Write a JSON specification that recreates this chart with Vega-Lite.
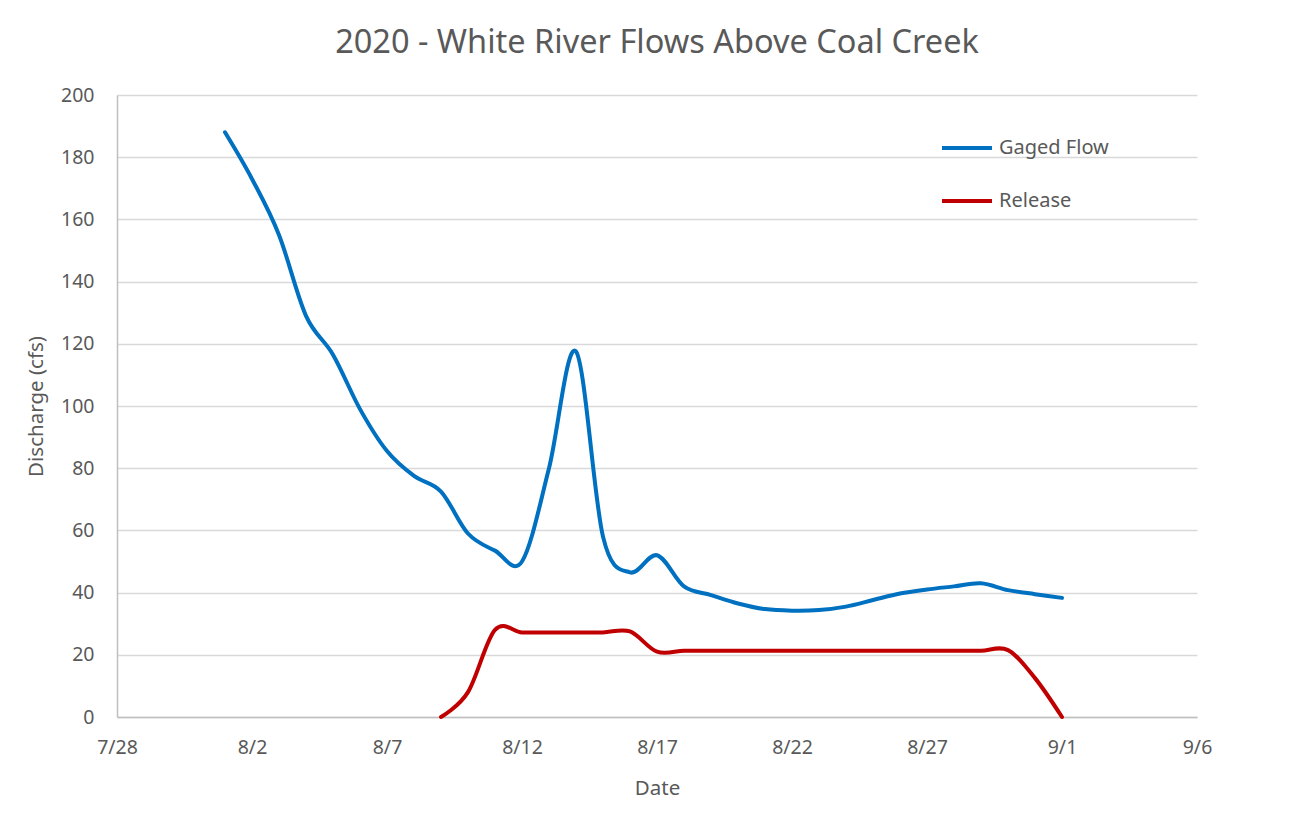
{
  "$schema": "https://vega.github.io/schema/vega-lite/v6.json",
  "autosize": "none",
  "width": 1080,
  "height": 622,
  "padding": {"left": 117, "top": 95, "right": 114, "bottom": 112},
  "background": "white",
  "title": {"text": "2020 - White River Flows Above Coal Creek", "font": "Noto Sans", "fontSize": 32.5, "fontWeight": "normal", "color": "#595959", "frame": "group", "anchor": "middle", "offset": 26},
  "config": {
    "view": {"stroke": null},
    "font": "Noto Sans",
    "axis": {"labelFont": "Noto Sans", "titleFont": "Noto Sans", "labelColor": "#595959", "titleColor": "#595959", "labelFontSize": 19.5, "titleFontSize": 20.5, "titleFontWeight": "normal", "ticks": false, "labelFlush": false, "domainColor": "#BFBFBF", "domainWidth": 1.5, "gridColor": "#D9D9D9", "gridWidth": 1.5}
  },
  "data": {"values": [
    {"date": "2020-08-01T00:00", "series": "Gaged Flow", "flow": 188},
    {"date": "2020-08-02T00:00", "series": "Gaged Flow", "flow": 173},
    {"date": "2020-08-03T00:00", "series": "Gaged Flow", "flow": 155},
    {"date": "2020-08-04T00:00", "series": "Gaged Flow", "flow": 129},
    {"date": "2020-08-05T00:00", "series": "Gaged Flow", "flow": 116.5},
    {"date": "2020-08-06T00:00", "series": "Gaged Flow", "flow": 99},
    {"date": "2020-08-07T00:00", "series": "Gaged Flow", "flow": 85.5},
    {"date": "2020-08-08T00:00", "series": "Gaged Flow", "flow": 77.5},
    {"date": "2020-08-09T00:00", "series": "Gaged Flow", "flow": 72.5},
    {"date": "2020-08-10T00:00", "series": "Gaged Flow", "flow": 59},
    {"date": "2020-08-11T00:00", "series": "Gaged Flow", "flow": 53.5},
    {"date": "2020-08-12T00:00", "series": "Gaged Flow", "flow": 50},
    {"date": "2020-08-13T00:00", "series": "Gaged Flow", "flow": 80},
    {"date": "2020-08-14T00:00", "series": "Gaged Flow", "flow": 117.5},
    {"date": "2020-08-15T00:00", "series": "Gaged Flow", "flow": 58},
    {"date": "2020-08-16T00:00", "series": "Gaged Flow", "flow": 46.5},
    {"date": "2020-08-17T00:00", "series": "Gaged Flow", "flow": 52},
    {"date": "2020-08-18T00:00", "series": "Gaged Flow", "flow": 42},
    {"date": "2020-08-19T00:00", "series": "Gaged Flow", "flow": 39.2},
    {"date": "2020-08-20T00:00", "series": "Gaged Flow", "flow": 36.5},
    {"date": "2020-08-21T00:00", "series": "Gaged Flow", "flow": 34.7},
    {"date": "2020-08-22T00:00", "series": "Gaged Flow", "flow": 34.2},
    {"date": "2020-08-23T00:00", "series": "Gaged Flow", "flow": 34.4},
    {"date": "2020-08-24T00:00", "series": "Gaged Flow", "flow": 35.5},
    {"date": "2020-08-25T00:00", "series": "Gaged Flow", "flow": 37.6},
    {"date": "2020-08-26T00:00", "series": "Gaged Flow", "flow": 39.7},
    {"date": "2020-08-27T00:00", "series": "Gaged Flow", "flow": 41},
    {"date": "2020-08-28T00:00", "series": "Gaged Flow", "flow": 42},
    {"date": "2020-08-29T00:00", "series": "Gaged Flow", "flow": 43},
    {"date": "2020-08-30T00:00", "series": "Gaged Flow", "flow": 40.8},
    {"date": "2020-08-31T00:00", "series": "Gaged Flow", "flow": 39.5},
    {"date": "2020-09-01T00:00", "series": "Gaged Flow", "flow": 38.3},
    {"date": "2020-08-09T00:00", "series": "Release", "flow": 0},
    {"date": "2020-08-10T00:00", "series": "Release", "flow": 8},
    {"date": "2020-08-11T00:00", "series": "Release", "flow": 28},
    {"date": "2020-08-12T00:00", "series": "Release", "flow": 27.2},
    {"date": "2020-08-13T00:00", "series": "Release", "flow": 27.2},
    {"date": "2020-08-14T00:00", "series": "Release", "flow": 27.2},
    {"date": "2020-08-15T00:00", "series": "Release", "flow": 27.2},
    {"date": "2020-08-16T00:00", "series": "Release", "flow": 27.5},
    {"date": "2020-08-17T00:00", "series": "Release", "flow": 21},
    {"date": "2020-08-18T00:00", "series": "Release", "flow": 21.3},
    {"date": "2020-08-19T00:00", "series": "Release", "flow": 21.3},
    {"date": "2020-08-20T00:00", "series": "Release", "flow": 21.3},
    {"date": "2020-08-21T00:00", "series": "Release", "flow": 21.3},
    {"date": "2020-08-22T00:00", "series": "Release", "flow": 21.3},
    {"date": "2020-08-23T00:00", "series": "Release", "flow": 21.3},
    {"date": "2020-08-24T00:00", "series": "Release", "flow": 21.3},
    {"date": "2020-08-25T00:00", "series": "Release", "flow": 21.3},
    {"date": "2020-08-26T00:00", "series": "Release", "flow": 21.3},
    {"date": "2020-08-27T00:00", "series": "Release", "flow": 21.3},
    {"date": "2020-08-28T00:00", "series": "Release", "flow": 21.3},
    {"date": "2020-08-29T00:00", "series": "Release", "flow": 21.3},
    {"date": "2020-08-30T00:00", "series": "Release", "flow": 21.5},
    {"date": "2020-08-31T00:00", "series": "Release", "flow": 12.5},
    {"date": "2020-09-01T00:00", "series": "Release", "flow": 0}
  ]},
  "mark": {"type": "line", "interpolate": "cardinal", "strokeWidth": 4, "strokeCap": "round", "strokeJoin": "round"},
  "encoding": {
    "x": {"field": "date", "type": "temporal", "title": "Date",
      "scale": {"domain": [{"year": 2020, "month": 7, "date": 28}, {"year": 2020, "month": 9, "date": 6}]},
      "axis": {"format": "%-m/%-d", "grid": false, "labelPadding": 21, "titlePadding": 22,
        "values": [{"year": 2020, "month": 7, "date": 28}, {"year": 2020, "month": 8, "date": 2}, {"year": 2020, "month": 8, "date": 7}, {"year": 2020, "month": 8, "date": 12}, {"year": 2020, "month": 8, "date": 17}, {"year": 2020, "month": 8, "date": 22}, {"year": 2020, "month": 8, "date": 27}, {"year": 2020, "month": 9, "date": 1}, {"year": 2020, "month": 9, "date": 6}]}},
    "y": {"field": "flow", "type": "quantitative", "title": "Discharge (cfs)",
      "scale": {"domain": [0, 200], "nice": false},
      "axis": {"values": [0, 20, 40, 60, 80, 100, 120, 140, 160, 180, 200], "labelPadding": 23, "titlePadding": 14}},
    "color": {"field": "series", "type": "nominal",
      "scale": {"domain": ["Gaged Flow", "Release"], "range": ["#0070C0", "#C00000"]},
      "legend": {"title": null, "orient": "none", "legendX": 823, "legendY": 26, "symbolType": "stroke", "symbolSize": 2500, "symbolStrokeWidth": 4, "labelFontSize": 20, "labelColor": "#595959", "labelFont": "Noto Sans", "labelOffset": 5, "rowPadding": 16, "padding": 0}}
  }
}
